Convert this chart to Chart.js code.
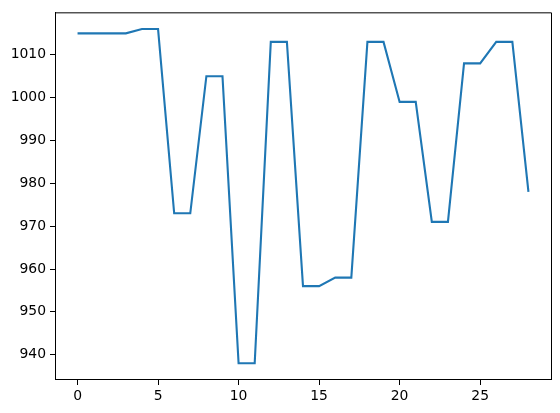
<!DOCTYPE html>
<html>
<head>
<meta charset="utf-8">
<script src="https://cdn.jsdelivr.net/npm/chart.js@4/dist/chart.umd.min.js"></script>
<style>
  html, body { margin: 0; padding: 0; background: #fff; }
  #wrap { width: 560px; height: 413px; }
</style>
</head>
<body>
<div id="wrap"><canvas id="myChart"></canvas></div>
<script>
// data
const xValues = [0, 1, 2, 3, 4, 5, 6, 7, 8, 9, 10, 11, 12, 13, 14, 15, 16, 17, 18, 19, 20, 21, 22, 23, 24, 25, 26, 27, 28];
const yValues = [1015, 1015, 1015, 1015, 1016, 1016, 973, 973, 1005, 1005, 938, 938, 1013, 1013, 956, 956, 958, 958, 1013, 1013, 999, 999, 971, 971, 1008, 1008, 1013, 1013, 978];
const xTicks = [0, 5, 10, 15, 20, 25];
const yTicks = [940, 950, 960, 970, 980, 990, 1000, 1010];

const puntos = xValues.map((x, i) => ({ x: x, y: yValues[i] }));

// matplotlib-like frame: top and right spines
const marco = {
    id: 'marco',
    afterDraw(chart) {
        const a = chart.chartArea;
        const c = chart.ctx;
        c.save();
        c.strokeStyle = '#000';
        c.lineWidth = 1;
        c.beginPath();
        c.moveTo(a.left, a.top + 0.5);
        c.lineTo(a.right + 0.5, a.top + 0.5);
        c.lineTo(a.right + 0.5, a.bottom);
        c.stroke();
        c.restore();
    }
};

const fuente = { family: 'DejaVu Sans', size: 13.9 };

var ctx = document.getElementById('myChart').getContext('2d');
var myChart = new Chart(ctx, {
    type: 'line',
    data: {
        datasets: [{
            data: puntos,
            borderColor: '#1f77b4',
            borderWidth: 2.1,
            pointRadius: 0,
            tension: 0,
            fill: false
        }]
    },
    options: {
        responsive: true,
        maintainAspectRatio: false,
        animation: false,
        layout: { padding: { top: 8, right: 9, left: 0, bottom: 0 } },
        plugins: {
            legend: { display: false },
            tooltip: { enabled: false }
        },
        scales: {
            x: {
                type: 'linear',
                min: -1.4,
                max: 29.4,
                afterBuildTicks: (scale) => { scale.ticks = xTicks.map(v => ({ value: v })); },
                afterFit: (scale) => { scale.height = 33; },
                grid: { drawOnChartArea: false, drawTicks: true, tickLength: 5, color: '#000', tickWidth: 1 },
                border: { display: true, color: '#000', width: 1 },
                ticks: { color: '#000', font: fuente, padding: 3, maxRotation: 0, callback: (v) => String(v) }
            },
            y: {
                type: 'linear',
                min: 934.1,
                max: 1019.9,
                afterBuildTicks: (scale) => { scale.ticks = yTicks.map(v => ({ value: v })); },
                afterFit: (scale) => { scale.width = 55; },
                grid: { drawOnChartArea: false, drawTicks: true, tickLength: 5, color: '#000', tickWidth: 1 },
                border: { display: true, color: '#000', width: 1 },
                ticks: { color: '#000', font: fuente, padding: 4, callback: (v) => String(v) }
            }
        }
    },
    plugins: [marco]
});
</script>
</body>
</html>
